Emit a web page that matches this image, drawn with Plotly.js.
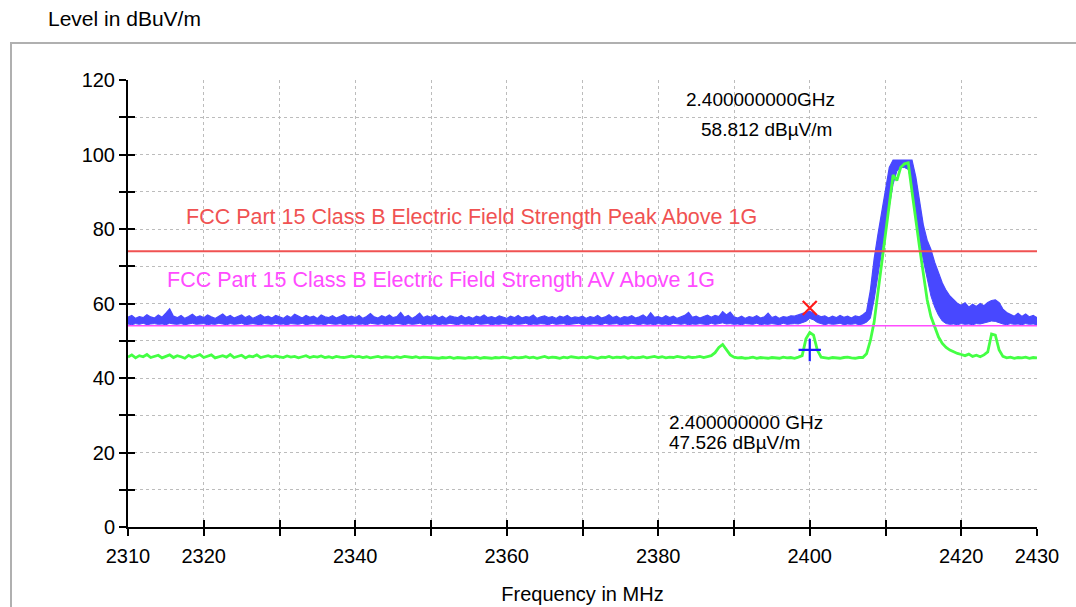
<!DOCTYPE html>
<html>
<head>
<meta charset="utf-8">
<script src="https://cdn.plot.ly/plotly-3.0.1.min.js"></script>
<style>
html,body{margin:0;padding:0;background:#fff;}
#wrap{position:relative;width:1076px;height:607px;overflow:hidden;}
#chart{position:absolute;left:0;top:0;width:1076px;height:607px;}
#frame{position:absolute;left:10px;top:42px;width:1200px;height:800px;border-left:2px solid #b0b0b0;border-top:2px solid #b0b0b0;pointer-events:none;}
</style>
</head>
<body>
<div id="wrap"><div id="chart"></div><div id="frame"></div></div>
<script>
// Frequency sweep: start and step (MHz)
const freqStart = 2310;
const freqStep = 0.5;

// Peak detector trace, upper and lower envelope of the max-hold band (dBuV/m)
const peakMax = [
56.3,56.8,56.0,56.5,56.2,57.0,56.4,56.1,56.9,56.3,57.4,58.6,56.6,56.2,56.8,56.0,56.5,57.1,56.3,56.7,
56.2,56.9,56.4,56.0,56.6,57.2,56.3,56.8,56.1,56.5,56.9,56.2,56.7,56.0,56.4,57.0,56.3,56.6,56.1,56.8,
56.4,56.0,56.7,56.2,57.1,56.5,56.1,56.8,56.3,56.6,56.0,56.9,56.4,56.2,56.7,56.1,56.5,57.0,56.3,56.6,
56.2,56.8,56.0,56.5,57.3,56.4,56.1,56.7,56.3,56.9,56.2,56.5,57.6,56.3,56.8,56.0,56.6,57.4,56.2,56.7,
56.3,56.9,56.1,56.6,56.0,56.7,56.4,56.2,56.8,56.1,56.5,56.0,56.6,56.3,56.9,56.2,56.5,56.1,56.7,56.3,
56.0,56.6,56.2,56.8,56.1,56.5,56.3,56.9,56.0,56.4,56.7,56.2,56.5,56.0,56.6,56.3,56.8,56.1,56.4,56.2,
56.6,56.0,56.5,56.2,56.8,56.1,56.4,57.0,56.2,56.6,56.0,56.5,56.3,56.7,56.1,56.4,56.9,56.2,57.5,56.3,
56.5,56.1,56.7,56.2,56.6,56.0,56.4,56.8,57.6,56.3,56.6,56.1,56.5,56.9,56.3,56.8,56.5,57.8,56.9,57.7,
56.4,56.1,56.6,56.0,56.5,56.2,56.7,56.1,56.4,57.4,56.2,56.6,56.0,56.5,56.3,56.7,56.6,57.0,57.3,57.6,
57.9,57.4,56.9,56.4,56.7,56.1,56.6,56.2,56.8,56.3,56.6,56.1,56.7,56.4,57.0,57.8,63.5,72.0,78.5,84.5,
90.5,96.5,98.5,98.5,98.5,98.5,98.5,98.5,94.0,87.0,81.0,77.0,74.5,71.0,68.0,65.5,63.5,62.0,61.0,60.0,
59.5,60.2,59.0,59.8,59.2,60.0,59.4,60.3,60.8,61.0,60.2,58.5,57.6,57.0,56.6,57.4,56.5,57.2,56.4,56.8,
56.2
];
const peakMin = [
54.5,54.3,54.6,54.4,54.7,54.3,54.5,54.6,54.4,54.5,54.3,54.7,54.5,54.4,54.6,54.3,54.5,54.7,54.4,54.5,
54.6,54.3,54.5,54.4,54.7,54.5,54.3,54.6,54.4,54.5,54.7,54.3,54.5,54.6,54.4,54.3,54.6,54.5,54.4,54.7,
54.4,54.5,54.3,54.6,54.5,54.4,54.7,54.3,54.5,54.6,54.4,54.5,54.3,54.7,54.5,54.4,54.6,54.3,54.5,54.4,
54.6,54.4,54.5,54.3,54.7,54.5,54.4,54.6,54.3,54.5,54.4,54.7,54.5,54.3,54.6,54.4,54.5,54.7,54.3,54.5,
54.4,54.6,54.3,54.5,54.4,54.7,54.5,54.3,54.6,54.4,54.5,54.3,54.7,54.4,54.5,54.6,54.3,54.5,54.4,54.6,
54.5,54.3,54.6,54.4,54.5,54.7,54.3,54.5,54.4,54.6,54.5,54.3,54.7,54.4,54.5,54.6,54.3,54.4,54.5,54.7,
54.3,54.5,54.4,54.6,54.5,54.3,54.7,54.4,54.5,54.6,54.3,54.5,54.4,54.7,54.5,54.3,54.6,54.4,54.5,54.3,
54.6,54.4,54.5,54.3,54.7,54.5,54.4,54.6,54.3,54.5,54.4,54.6,54.5,54.3,54.7,54.4,54.6,54.8,54.5,54.6,
54.4,54.5,54.3,54.6,54.5,54.4,54.7,54.3,54.5,54.4,54.6,54.5,54.3,54.7,54.4,54.5,54.6,54.5,54.8,55.2,
56.0,55.6,54.9,54.5,54.3,54.6,54.4,54.5,54.7,54.3,54.5,54.4,54.6,54.3,54.5,55.0,56.0,61.0,68.0,74.0,
80.0,86.0,92.0,95.5,96.5,96.5,96.0,92.0,85.0,77.0,71.5,66.5,62.0,59.0,56.8,55.3,54.6,54.4,54.5,54.3,
54.6,54.4,54.5,54.3,54.6,54.5,54.7,55.0,55.3,55.2,54.8,54.5,54.3,54.6,54.4,54.5,54.3,54.6,54.4,54.5,
54.3
];
// Average detector trace (dBuV/m)
const avgTrace = [
45.6,46.2,45.4,46.0,45.7,46.3,45.5,45.9,46.1,45.4,45.8,46.2,45.5,46.0,45.7,45.3,46.1,45.6,45.9,46.3,
45.5,45.9,46.2,45.4,45.8,46.0,45.6,46.3,45.5,45.8,46.1,45.4,45.9,45.7,46.2,45.5,45.8,46.0,45.6,45.9,
45.7,45.5,45.9,45.6,45.8,45.4,45.7,46.0,45.5,45.8,45.6,45.9,45.5,45.7,45.4,45.8,45.6,45.5,45.7,45.9,
45.6,45.8,45.5,45.7,45.4,45.6,45.8,45.5,45.7,45.6,45.4,45.7,45.5,45.8,45.6,45.5,45.7,45.4,45.6,45.5,
45.4,45.5,45.3,45.5,45.4,45.6,45.3,45.5,45.4,45.3,45.5,45.4,45.6,45.3,45.5,45.4,45.3,45.5,45.4,45.6,
45.5,45.3,45.6,45.4,45.5,45.7,45.4,45.6,45.3,45.5,45.8,45.4,45.6,45.5,45.3,45.6,45.4,45.7,45.5,45.4,
45.6,45.4,45.7,45.5,45.3,45.6,45.5,45.8,45.4,45.6,45.5,45.7,45.3,45.6,45.4,45.5,45.7,45.4,45.6,45.8,
45.5,45.7,45.4,45.6,45.5,45.8,45.6,45.4,45.7,45.5,45.6,45.8,45.5,45.7,46.0,46.8,48.2,49.0,47.6,46.2,
45.6,45.4,45.5,45.3,45.4,45.6,45.3,45.5,45.4,45.3,45.5,45.4,45.3,45.6,45.4,45.5,45.3,45.6,46.0,50.5,
52.2,51.5,47.5,45.6,45.4,45.3,45.5,45.4,45.3,45.5,45.6,45.4,45.3,45.5,45.5,46.5,50.0,55.0,63.0,72.0,
80.0,88.0,94.5,93.0,96.5,97.5,97.8,90.0,82.0,75.0,68.0,61.0,56.5,53.5,51.0,49.3,48.2,47.5,47.0,46.6,
46.3,46.0,46.4,45.8,46.1,45.7,46.2,47.0,51.8,51.5,47.5,45.8,45.4,45.6,45.3,45.5,45.4,45.6,45.3,45.5,
45.4
];

// Limit lines
const limitRange = [2310, 2430];
const limitPeak = 74;
const limitAv = 54;
const limitPeakLabel = 'FCC Part 15 Class B Electric Field Strength Peak Above 1G';
const limitAvLabel = 'FCC Part 15 Class B Electric Field Strength AV Above 1G';

// Markers
const markerFreq = 2400;
const markerPeak = 58.812;
const markerAv = 47.526;
const markerPeakText = ['2.400000000GHz', '58.812 dBµV/m'];
const markerAvText = ['2.400000000 GHz', '47.526 dBµV/m'];

// Axes
const xRange = [2310, 2430];
const yRange = [0, 120];
const xTickVals = [2310,2320,2330,2340,2350,2360,2370,2380,2390,2400,2410,2420,2430];
const xTickText = ['2310','2320','','2340','','2360','','2380','','2400','','2420','2430'];
const yTickVals = [0,10,20,30,40,50,60,70,80,90,100,110,120];
const yTickText = ['0','','20','','40','','60','','80','','100','','120'];

const FONT = '"Liberation Sans", Arial, Helvetica, sans-serif';
const BLUE = '#4848ff';
const GREEN = '#44ff44';
const RED = '#f05252';
const MAGENTA = '#ff4cff';

const traces = [
  {x0: freqStart, dx: freqStep, y: peakMin, type: 'scatter', mode: 'lines',
   line: {color: BLUE, width: 1}, hoverinfo: 'skip', showlegend: false},
  {x0: freqStart, dx: freqStep, y: peakMax, type: 'scatter', mode: 'lines',
   fill: 'tonexty', fillcolor: BLUE, line: {color: BLUE, width: 1.2}, showlegend: false},
  {x0: freqStart, dx: freqStep, y: avgTrace, type: 'scatter', mode: 'lines',
   line: {color: GREEN, width: 2.8}, showlegend: false},
  {x: limitRange, y: [limitPeak, limitPeak], type: 'scatter', mode: 'lines',
   line: {color: RED, width: 2}, showlegend: false},
  {x: limitRange, y: [limitAv, limitAv], type: 'scatter', mode: 'lines',
   line: {color: MAGENTA, width: 1.5}, showlegend: false},
  {x: [markerFreq], y: [markerPeak], type: 'scatter', mode: 'markers',
   marker: {symbol: 'x-thin', size: 14, line: {color: '#ff1a1a', width: 2.2}}, showlegend: false},
  {x: [markerFreq], y: [markerAv], type: 'scatter', mode: 'markers',
   marker: {symbol: 'cross-thin', size: 16, line: {color: '#1a1aff', width: 2.2}}, showlegend: false},
  {x: [], y: [], xaxis: 'x2', yaxis: 'y2', type: 'scatter', mode: 'lines', showlegend: false}
];

const gridCommon = {showgrid: true, gridcolor: '#bcbcbc', gridwidth: 1, griddash: 'dot', zeroline: false};

const layout = {
  width: 1076, height: 607,
  margin: {l: 128, r: 39, t: 80, b: 80},
  paper_bgcolor: 'rgba(0,0,0,0)', plot_bgcolor: '#fff',
  font: {family: FONT, color: '#000', size: 20},
  showlegend: false,
  title: {text: 'Level in dBuV/m', xref: 'container', yref: 'container', x: 48/1076, xanchor: 'left',
          y: 1 - 19/607, yanchor: 'middle', font: {family: FONT, size: 21, color: '#000'}},
  xaxis: Object.assign({}, gridCommon, {
    range: xRange, tickmode: 'array', tickvals: xTickVals, ticktext: xTickText,
    ticks: 'outside', ticklen: 7, tickwidth: 2, tickcolor: '#000',
    showline: true, linecolor: '#000', linewidth: 2, mirror: false,
    tickfont: {family: FONT, size: 20}, ticklabelstandoff: 3,
    title: {text: 'Frequency in MHz', font: {family: FONT, size: 20}, standoff: 21}
  }),
  yaxis: Object.assign({}, gridCommon, {
    range: yRange, tickmode: 'array', tickvals: yTickVals, ticktext: yTickText,
    ticks: 'outside', ticklen: 7, tickwidth: 2, tickcolor: '#000',
    showline: true, linecolor: '#000', linewidth: 2,
    tickfont: {family: FONT, size: 20}, ticklabelstandoff: 0
  }),
  xaxis2: {overlaying: 'x', anchor: 'y2', side: 'bottom', range: xRange, tickmode: 'array', tickvals: xTickVals,
           ticks: 'inside', ticklen: 7, tickwidth: 2, tickcolor: '#000', showticklabels: false,
           showgrid: false, zeroline: false, showline: false},
  yaxis2: {overlaying: 'y', anchor: 'x2', side: 'left', range: yRange, tickmode: 'array', tickvals: yTickVals,
           ticks: 'inside', ticklen: 7, tickwidth: 2, tickcolor: '#000', showticklabels: false,
           showgrid: false, zeroline: false, showline: false},
  annotations: [
    {xref: 'x', yref: 'y', x: 2317.4, y: 83.2, xanchor: 'left', yanchor: 'middle', showarrow: false,
     text: limitPeakLabel, font: {family: FONT, size: 21.5, color: RED}},
    {xref: 'x', yref: 'y', x: 2314.9, y: 66.4, xanchor: 'left', yanchor: 'middle', showarrow: false,
     text: limitAvLabel, font: {family: FONT, size: 21.5, color: MAGENTA}},
    {xref: 'x', yref: 'y', x: 2383.4, y: 114.7, xanchor: 'left', yanchor: 'middle', showarrow: false,
     text: markerPeakText[0], font: {family: FONT, size: 19, color: '#000'}},
    {xref: 'x', yref: 'y', x: 2385.4, y: 106.6, xanchor: 'left', yanchor: 'middle', showarrow: false,
     text: markerPeakText[1], font: {family: FONT, size: 19, color: '#000'}},
    {xref: 'x', yref: 'y', x: 2381.1, y: 28.0, xanchor: 'left', yanchor: 'middle', showarrow: false,
     text: markerAvText[0], font: {family: FONT, size: 19, color: '#000'}},
    {xref: 'x', yref: 'y', x: 2381.1, y: 22.7, xanchor: 'left', yanchor: 'middle', showarrow: false,
     text: markerAvText[1], font: {family: FONT, size: 19, color: '#000'}}
  ]
};

Plotly.newPlot('chart', traces, layout, {displayModeBar: false, staticPlot: true});
</script>
</body>
</html>
